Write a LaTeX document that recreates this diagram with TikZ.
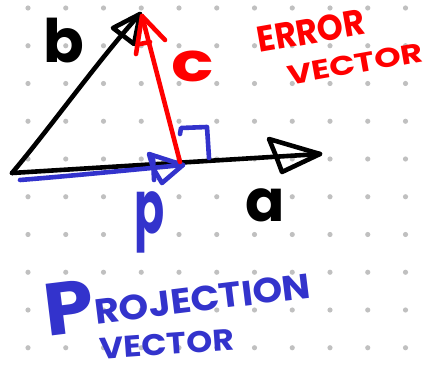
\documentclass[tikz,border=0pt]{standalone}
\usepackage{fontspec}
\setmainfont{Poppins}
\definecolor{penred}{RGB}{255,0,0}
\definecolor{penblue}{RGB}{51,51,204}
\definecolor{dotgray}{RGB}{192,192,192}
\begin{document}
\begin{tikzpicture}[x=1pt,y=-1pt,
  pen/.style={line width=4.6pt,line cap=round,line join=round},
  lbl/.style={inner sep=0pt,anchor=center,font=\bfseries}]
\useasboundingbox[fill=white] (0,0) rectangle (426,366);
% dot grid
\foreach \i in {0,...,10}{
  \foreach \j in {0,...,9}{
    \fill[dotgray] ({28+37.75*\i},{8+37.75*\j}) circle (2.6pt);
  }
}
% key points
\coordinate (O) at (12,173);
\coordinate (Bt) at (140,14);
\coordinate (At) at (320,154);
\coordinate (F) at (180,162);
\coordinate (Ct) at (142,16);
\coordinate (Ps) at (20,180);
\coordinate (Pt) at (183,165);
% vector b
\draw[pen,black] (O) .. controls (50,128) and (100,58) .. (Bt);
\draw[pen,black] (113,28) -- (Bt) -- (134,44) -- cycle;
% vector a
\draw[pen,black] (O) -- (At);
\draw[pen,black] (269,139) -- (At) -- (282,172) -- (276,156) -- cycle;
% projection p
\draw[pen,penblue] (Ps) .. controls (70,176) and (130,170) .. (Pt);
\draw[pen,penblue] (149,154) -- (Pt) -- (162,183) -- (153,168) -- cycle;
\draw[pen,penblue] (153,156) -- (154,180);
% right angle
\draw[pen,penblue] (180,134) -- (181,128) -- (207,127) -- (209,158);
% error c
\draw[pen,penred] (F) -- (Ct);
\draw[pen,penred] (136,54) -- (Ct) -- (165,40);
\draw[pen,penred] (140,44) -- (150,42);
% labels
\node[lbl,font=\bfseries\fontsize{60}{60}\selectfont] (lb) at (64,41) {b};
\node[lbl,penred,xscale=1.3,font=\bfseries\fontsize{54}{54}\selectfont] (lc) at (193,66) {c};
\node[lbl,font=\bfseries\fontsize{58}{58}\selectfont] (la) at (265,205) {a};
\node[lbl,penblue,xscale=0.6,font=\bfseries\fontsize{74}{74}\selectfont] (lp) at (150,222) {p};
\node[lbl,penred,rotate=10,xscale=0.92,font=\bfseries\fontsize{36}{36}\selectfont] (lerr) at (311,31) {ERROR};
\node[lbl,penred,rotate=10,xscale=1.25,font=\bfseries\fontsize{27}{27}\selectfont] (lev) at (355,64) {VECTOR};
\node[lbl,penblue,rotate=7,xscale=1.08,font=\bfseries\fontsize{35}{35}\selectfont] (lproj) at (177,294) {\raisebox{-6pt}{\fontsize{74}{74}\selectfont P}ROJECTION};
\node[lbl,penblue,rotate=4,xscale=1.1,font=\bfseries\fontsize{30}{30}\selectfont] (lpv) at (167,344) {VECTOR};
\end{tikzpicture}
\end{document}
